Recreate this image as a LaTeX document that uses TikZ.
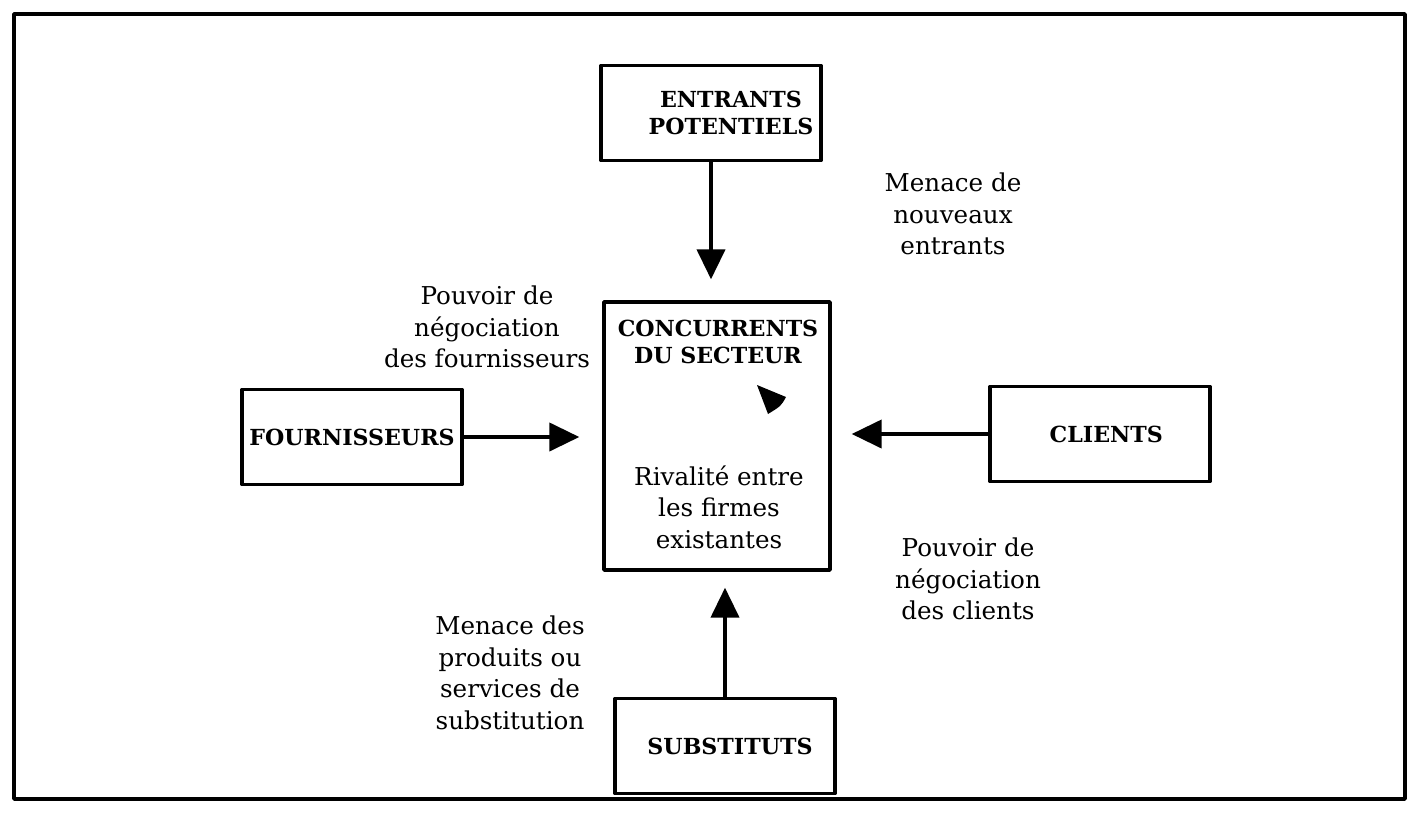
\documentclass[tikz,border=0pt]{standalone}
\usepackage{fontspec}
\setmainfont{DejaVu Serif}
\usetikzlibrary{arrows.meta}
\begin{document}
\begin{tikzpicture}[x=0.02cm,y=-0.02cm,line join=round,>={Triangle[length=17pt,width=16pt]},
    hop/.style={draw,line width=2pt,minimum width=4.4cm,minimum height=1.9cm,inner sep=0pt,align=center,font=\fontsize{12.6}{15.5}\selectfont\bfseries},
    nhan/.style={align=center,font=\fontsize{14}{18}\selectfont},
    muiten/.style={->,line width=2pt,shorten >=0.42cm}]
    \useasboundingbox (0,0) rectangle (1426,818);
    \draw[line width=2pt] (14,14) rectangle (1405,799);
    % cac hop
    \node[hop] (ent) at (711,113) {\hspace*{0.8cm}ENTRANTS\\\hspace*{0.8cm}POTENTIELS};
    \node[hop] (four) at (352,437) {FOURNISSEURS};
    \node[hop] (cli) at (1100,434) {\hspace*{0.25cm}CLIENTS};
    \node[hop] (sub) at (725,746) {\hspace*{0.2cm}SUBSTITUTS};
    \node[hop,minimum width=4.52cm,minimum height=5.36cm] (conc) at (717,436) {};
    \node[font=\fontsize{12.6}{15.5}\selectfont\bfseries,align=center] (concten) at (718,342) {CONCURRENTS\\DU SECTEUR};
    \node[nhan] (riv) at (719,507) {Rivalité entre\\les firmes\\existantes};
    \fill (757,385)--(786,397) .. controls (781,406) .. (768,414)--cycle;
    % cac mui ten
    \draw[muiten] (ent.south)--(ent.south|-conc.north);
    \draw[muiten,shorten >=0.32cm] (sub.north)--(sub.north|-conc.south);
    \draw[muiten,shorten >=0.46cm] (four.east)--(four.east-|conc.west);
    \draw[muiten,shorten >=0.4cm] (cli.west)--(cli.west-|conc.east);
    % cac nhan
    \node[nhan] (moi) at (953,214) {Menace de\\nouveaux\\entrants};
    \node[nhan] (ncc) at (487,327) {Pouvoir de\\négociation\\des fournisseurs};
    \node[nhan] (nkh) at (968,579) {Pouvoir de\\négociation\\des clients};
    \node[nhan] (tt) at (510,673) {Menace des\\produits ou\\services de\\substitution};
\end{tikzpicture}
\end{document}
